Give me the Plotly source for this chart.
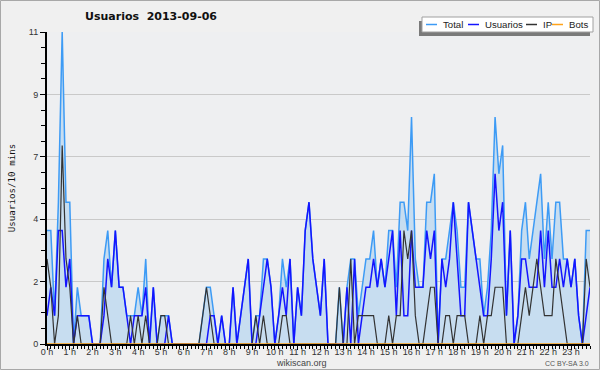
import plotly.graph_objects as go

# 10-minute slots of 2013-09-06, slot index 0..143
slots = list(range(144))
hours = [s / 6 for s in slots]

total = [4, 4, 1, 5, 11, 5, 5, 0, 2, 1, 1, 1, 0, 0, 0, 3, 4, 2, 4, 2, 2, 1, 1, 1,
         2, 1, 3, 0, 2, 0, 1, 1, 1, 0, 0, 0, 0, 0, 0, 0, 0, 1, 2, 2, 1, 0, 1, 0,
         0, 2, 0, 1, 2, 3, 0, 1, 1, 3, 3, 2, 0, 1, 3, 2, 3, 0, 2, 1, 4, 5, 3, 2,
         1, 3, 0, 0, 0, 2, 0, 2, 3, 3, 1, 2, 3, 3, 4, 2, 3, 2, 4, 4, 2, 5, 5, 4,
         8, 3, 2, 2, 5, 5, 6, 0, 3, 3, 4, 5, 4, 2, 2, 5, 4, 3, 3, 1, 2, 4, 8, 6,
         7, 1, 4, 0, 1, 4, 5, 3, 4, 5, 6, 3, 5, 3, 5, 5, 3, 3, 2, 3, 1, 0, 4, 4]

usuarios = [1, 2, 1, 4, 4, 2, 3, 0, 1, 1, 1, 1, 0, 0, 0, 1, 3, 2, 4, 2, 2, 1, 0, 1,
            1, 1, 2, 0, 2, 0, 0, 0, 1, 0, 0, 0, 0, 0, 0, 0, 0, 0, 0, 1, 1, 0, 1, 0,
            0, 2, 0, 1, 2, 3, 0, 0, 1, 2, 3, 2, 0, 1, 2, 1, 3, 0, 2, 1, 4, 5, 3, 2,
            1, 3, 0, 0, 0, 0, 0, 2, 0, 3, 0, 1, 2, 2, 3, 2, 3, 2, 3, 4, 1, 4, 1, 1,
            4, 2, 2, 2, 4, 3, 4, 0, 3, 2, 3, 5, 3, 1, 1, 5, 4, 3, 2, 1, 1, 3, 6, 4,
            5, 1, 4, 0, 1, 3, 3, 2, 2, 2, 4, 2, 4, 2, 2, 3, 2, 3, 2, 3, 1, 0, 1, 2]

ip = [3, 2, 0, 1, 7, 3, 2, 0, 1, 0, 0, 0, 0, 0, 0, 2, 1, 0, 0, 0, 0, 0, 1, 0,
      1, 0, 1, 0, 0, 0, 1, 1, 0, 0, 0, 0, 0, 0, 0, 0, 0, 1, 2, 1, 0, 0, 0, 0,
      0, 0, 0, 0, 0, 0, 0, 1, 0, 1, 0, 0, 0, 0, 1, 1, 0, 0, 0, 0, 0, 0, 0, 0,
      0, 0, 0, 0, 0, 2, 0, 0, 3, 0, 1, 1, 1, 1, 1, 0, 0, 0, 1, 0, 1, 1, 4, 3,
      4, 1, 0, 0, 1, 2, 2, 0, 0, 1, 1, 0, 1, 1, 1, 0, 0, 0, 1, 0, 1, 1, 2, 2,
      2, 0, 0, 0, 0, 1, 2, 1, 2, 3, 2, 1, 1, 1, 3, 2, 1, 0, 0, 0, 0, 0, 3, 2]

bots = [0] * 144

series_names = ["Total", "Usuarios", "IP", "Bots"]
series_colors = ["#3d9bf5", "#1414ff", "#333333", "#ffa31a"]

hour_ticks = list(range(24))
hour_labels = [f"{h} h" for h in hour_ticks]
y_tickvals = [0, 2.2, 4.4, 6.6, 8.8, 11]
y_ticklabels = ["0", "2", "4", "7", "9", "11"]

W, H = 600, 370
L, R, T, B = 47, 10, 32, 26
pw, ph = W - L - R, H - T - B


def px_x(p):
    return (p - L) / pw


def px_y(p):
    return (H - B - p) / ph


fig = go.Figure()
fig.add_trace(go.Scatter(x=hours, y=total, mode="lines", showlegend=False,
                         line=dict(color="rgba(0,0,0,0)", width=0),
                         fill="tozeroy", fillcolor="#c7ddf0", hoverinfo="skip"))
widths = [1.5, 1.5, 1.2, 1.5]
for name, ys, col, w in zip(series_names, [total, usuarios, ip, bots], series_colors, widths):
    fig.add_trace(go.Scatter(x=hours, y=ys, name=name, mode="lines", showlegend=False,
                             line=dict(color=col, width=w)))

# legend drawn by hand (compact, with drop shadow, like the original)
shapes = [
    dict(type="rect", xref="paper", yref="paper", layer="above",
         x0=px_x(419), x1=px_x(590), y0=px_y(36), y1=px_y(21),
         fillcolor="#7a7a7a", line=dict(width=0)),
    dict(type="rect", xref="paper", yref="paper", layer="above",
         x0=px_x(422), x1=px_x(593), y0=px_y(32), y1=px_y(17),
         fillcolor="#ffffff", line=dict(color="#a0a0a0", width=1)),
    dict(type="rect", xref="paper", yref="paper", layer="below",
         x0=px_x(0.5), x1=px_x(599.5), y0=px_y(369.5), y1=px_y(0.5),
         fillcolor="rgba(0,0,0,0)", line=dict(color="#a8a8a8", width=1)),
]
annotations = []
leg_line_x = [426, 468, 526, 552]
leg_text_x = [442, 484, 542, 568]
for name, col, lx, tx in zip(series_names, series_colors, leg_line_x, leg_text_x):
    shapes.append(dict(type="line", xref="paper", yref="paper", layer="above",
                       x0=px_x(lx), x1=px_x(lx + 11), y0=px_y(24.5), y1=px_y(24.5),
                       line=dict(color=col, width=1.5)))
    annotations.append(dict(text=name, xref="paper", yref="paper", x=px_x(tx), y=px_y(24.5),
                            xanchor="left", yanchor="middle", showarrow=False,
                            borderpad=0,
                            font=dict(family="Liberation Sans", size=9.6, color="#222222")))

annotations += [
    dict(text="wikiscan.org", xref="paper", yref="paper", x=px_x(301), y=px_y(363),
         xanchor="center", yanchor="middle", showarrow=False, borderpad=0,
         font=dict(family="Liberation Sans", size=9, color="#444444")),
    dict(text="CC BY-SA 3.0", xref="paper", yref="paper", x=px_x(590), y=px_y(363),
         xanchor="right", yanchor="middle", showarrow=False, borderpad=0,
         font=dict(family="Liberation Sans", size=7, color="#555555")),
]

fig.update_layout(
    width=W, height=H,
    margin=dict(l=L, r=R, t=T, b=B, pad=0),
    paper_bgcolor="#f0f0f0",
    plot_bgcolor="#eeeff1",
    font=dict(family="Liberation Sans", size=9, color="#333333"),
    title=dict(text="Usuarios\u00a0\u00a02013-09-06", xref="container", yref="container",
               x=151 / W, xanchor="center", y=1 - 16 / H, yanchor="middle",
               font=dict(family="DejaVu Sans", size=11, color="#111111", weight="bold")),
    showlegend=False,
    xaxis=dict(range=[0, 143 / 6], tickmode="array", tickvals=hour_ticks, ticktext=hour_labels,
               tickangle=0, automargin=False, ticklabelstandoff=-6,
               ticks="outside", ticklen=4, tickcolor="#000000", tickwidth=1,
               showline=True, linecolor="#000000", linewidth=2, showgrid=False, zeroline=False,
               tickfont=dict(family="Liberation Sans", size=9, color="#333333"),
               minor=dict(dtick=1 / 6, tick0=0, ticks="outside", ticklen=3, tickcolor="#000000")),
    yaxis=dict(range=[0, 11], tickmode="array", tickvals=y_tickvals, ticktext=y_ticklabels,
               automargin=False,
               ticks="outside", ticklen=5, tickcolor="#000000", tickwidth=1,
               showline=True, linecolor="#000000", linewidth=2,
               showgrid=True, gridcolor="#c9c9c9", gridwidth=1, zeroline=False,
               tickfont=dict(family="Liberation Sans", size=9, color="#333333"),
               title=dict(text="Usuarios/10 mins", standoff=12,
                          font=dict(family="DejaVu Sans Mono", size=9.2, color="#111111")),
               minor=dict(dtick=0.55, tick0=0, ticks="outside", ticklen=4, tickcolor="#000000",
                          showgrid=False)),
    shapes=shapes,
    annotations=annotations,
)

fig.write_html("out.html", config={"displayModeBar": False},
               post_script="document.body.style.margin='0';document.body.style.padding='0';")
